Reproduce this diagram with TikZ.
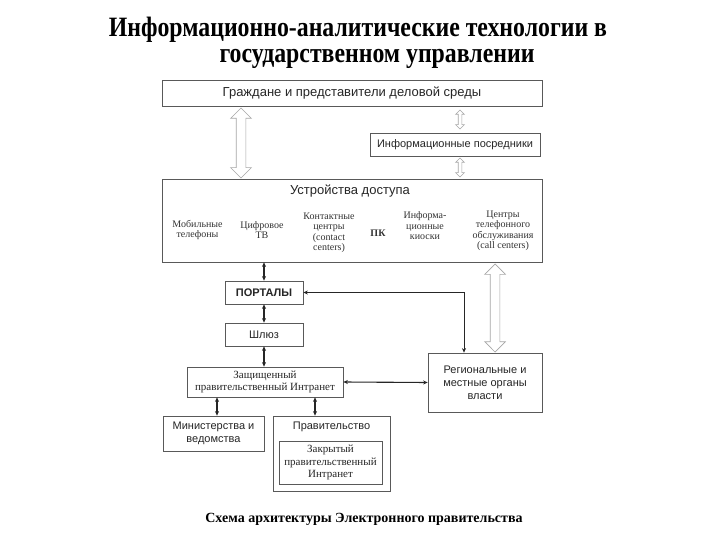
\documentclass[tikz,border=0pt]{standalone}
\usepackage{fontspec}
\setmainfont{Liberation Serif}
\setsansfont{Liberation Sans}
\newfontfamily\titlefont{Liberation Serif}[FakeStretch=0.85]
\usetikzlibrary{arrows.meta,shapes.arrows,shadows}

\begin{document}
\begin{tikzpicture}[x=1pt, y=-1pt,
  box/.style={draw=black!65, fill=white, line width=0.7pt, drop shadow={shadow xshift=1.2pt, shadow yshift=-1.4pt, fill=black!45, opacity=1}, align=center, inner sep=1pt, text=black!85, font=\sffamily\fontsize{11}{13}\selectfont},
  item/.style={align=center, inner sep=0pt, text=black!80, font=\fontsize{10}{10.5}\selectfont},
  link/.style={{Stealth[length=4.5pt,width=4pt]}-{Stealth[length=4.5pt,width=4pt]}, line width=1.1pt, black!85},
  hollow/.style={shape=double arrow, draw=black!35, fill=white, line width=0.7pt, rotate=90, inner sep=4.5pt, double arrow head extend=5.5pt, minimum height=#1},
  thinhollow/.style={shape=double arrow, draw=black!35, fill=white, line width=0.6pt, rotate=90, inner sep=1.5pt, double arrow head extend=2.5pt, minimum height=#1}
]
\useasboundingbox (0,0) rectangle (720,540);
\fill[white] (0,0) rectangle (720,540);

\node[anchor=base, align=center, font=\titlefont\bfseries\fontsize{28}{26}\selectfont] (title) at (358,63) {Информационно-аналитические технологии в\\\hspace*{38pt}государственном управлении};

\node[box, minimum width=380, minimum height=26, font=\sffamily\fontsize{13}{15}\selectfont] (citizens) at (352,93) {Граждане и представители деловой среды};
\node[box, minimum width=170, minimum height=23] (mediators) at (455,144.5) {Информационные посредники};
\node[box, minimum width=380, minimum height=83] (access) at (352,220.5) {};
\node[text=black!85, font=\sffamily\fontsize{13}{15}\selectfont] (accesstitle) at (350,191) {Устройства доступа};
\node[item] (mobile) at (197.5,230) {Мобильные\\телефоны};
\node[item] (digitaltv) at (262,230) {Цифровое\\ТВ};
\node[item] (contact) at (329,233) {Контактные\\центры\\(contact\\centers)};
\node[item, font=\bfseries\fontsize{10}{12}\selectfont] (pc) at (378,233) {ПК};
\node[item] (kiosk) at (425,226) {Информа-\\ционные\\киоски};
\node[item] (callcenter) at (503,231) {Центры\\телефонного\\обслуживания\\(call centers)};

\node[box, minimum width=78, minimum height=23, font=\sffamily\bfseries\fontsize{11}{13}\selectfont] (portals) at (264,292.5) {ПОРТАЛЫ};
\node[box, minimum width=78, minimum height=23] (gateway) at (264,334.5) {Шлюз};
\node[box, minimum width=156, minimum height=30, font=\fontsize{11}{12.5}\selectfont] (intranet) at (265,382) {Защищенный\\правительственный Интранет};
\node[box, minimum width=114, minimum height=59] (regional) at (485,382.5) {Региональные и\\местные органы\\власти};
\node[box, minimum width=101, minimum height=35] (ministries) at (213.5,433.5) {Министерства и\\ведомства};
\node[box, minimum width=117, minimum height=75] (government) at (331.5,453.5) {};
\node[text=black!85, font=\sffamily\fontsize{11}{13}\selectfont] (govlabel) at (331.5,427) {Правительство};
\node[box, minimum width=103, minimum height=43, font=\fontsize{11}{12.5}\selectfont] (closed) at (330.5,462.5) {Закрытый\\правительственный\\Интранет};

\node[hollow=70] (citizenslink) at (241,143) {};
\node[thinhollow=19] (mediatorsup) at (460,119.5) {};
\node[thinhollow=19] (mediatorsdown) at (460,167.5) {};
\node[hollow=88] (regionallink) at (495,308) {};

\draw[link] (portals.north |- access.south) -- (portals.north);
\draw[link] (portals.south) -- (gateway.north);
\draw[link] (gateway.south) -- (gateway.south |- intranet.north);
\draw[link] (intranet.east) -- (regional.west);
\coordinate (rx) at ([xshift=-21]regional.north);
\draw[link, line width=0.8pt] (portals.east) -| (rx);
\coordinate (mx) at ([xshift=3.5]ministries.north);
\draw[link] (mx |- intranet.south) -- (mx);
\coordinate (gx) at ([xshift=-16.5]government.north);
\draw[link] (gx |- intranet.south) -- (gx);

\node[anchor=base, font=\bfseries\fontsize{14}{16}\selectfont] (caption) at (364,522) {Схема архитектуры Электронного правительства};
\end{tikzpicture}
\end{document}
